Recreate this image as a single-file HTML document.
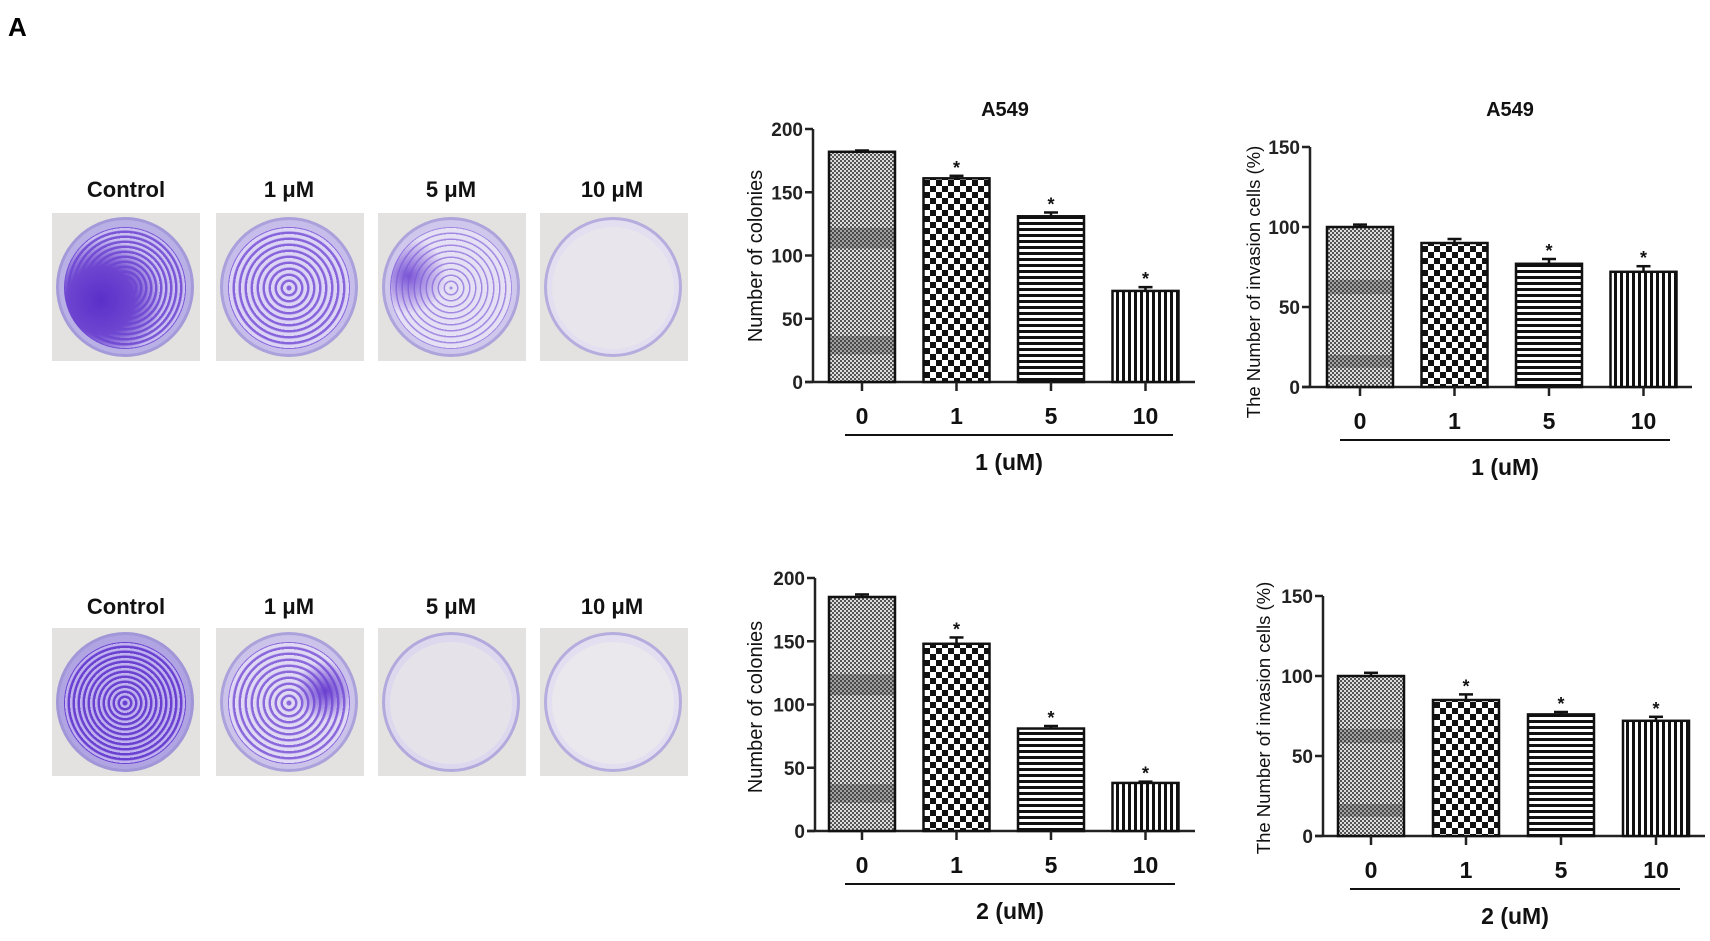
<!DOCTYPE html>
<html><head><meta charset="utf-8"><style>
html,body{margin:0;padding:0;background:#fff;width:1710px;height:941px;overflow:hidden;font-family:"Liberation Sans",Arial,sans-serif}
.lbl{position:absolute;font-weight:bold;font-size:22px;color:#111;transform:translateX(-50%);white-space:nowrap}
.photo{position:absolute;width:148px;height:148px;background:#e4e2e0;overflow:hidden}
.dish{position:absolute;left:4px;top:4px;width:138px;height:140px;border-radius:50%;border:3px solid rgba(150,140,210,.6);box-sizing:border-box}
.inner{position:absolute;left:12px;top:14px;width:122px;height:122px;border-radius:50%}
</style></head><body>
<div style="position:absolute;left:8px;top:12px;font-size:26px;font-weight:bold">A</div>

<div class="lbl" style="left:126px;top:177px">Control</div>
<div class="lbl" style="left:289px;top:177px">1 μM</div>
<div class="lbl" style="left:451px;top:177px">5 μM</div>
<div class="lbl" style="left:612px;top:177px">10 μM</div>
<div class="photo" style="left:52px;top:213px"><div class="dish" style="background:#b9b0e6"></div><div class="inner" style="background:radial-gradient(circle at 30% 60%,#5a2fc9 0,#6d45d0 30%,transparent 55%),repeating-radial-gradient(circle at 50% 50%,#7a55d6 0 2px,#c9bff0 3px 5px)"></div></div>
<div class="photo" style="left:216px;top:213px"><div class="dish" style="background:#c6bdea"></div><div class="inner" style="background:repeating-radial-gradient(circle at 50% 50%,#8764dc 0 2px,#dcd4f4 3px 6px)"></div></div>
<div class="photo" style="left:378px;top:213px"><div class="dish" style="background:#cfc8ec"></div><div class="inner" style="background:radial-gradient(circle at 15% 40%,#7a55d6 0,transparent 30%),repeating-radial-gradient(circle at 50% 50%,#a088e2 0 1px,#e6e0f5 2px 6px)"></div></div>
<div class="photo" style="left:540px;top:213px"><div class="dish" style="background:#e3def0"></div><div class="inner" style="background:#e8e5ec"></div></div>

<div class="lbl" style="left:126px;top:594px">Control</div>
<div class="lbl" style="left:289px;top:594px">1 μM</div>
<div class="lbl" style="left:451px;top:594px">5 μM</div>
<div class="lbl" style="left:612px;top:594px">10 μM</div>
<div class="photo" style="left:52px;top:628px"><div class="dish" style="background:#b0a5e2"></div><div class="inner" style="background:repeating-radial-gradient(circle at 50% 50%,#6a40d0 0 2px,#bfb2ee 3px 5px)"></div></div>
<div class="photo" style="left:216px;top:628px"><div class="dish" style="background:#cbc3ea"></div><div class="inner" style="background:radial-gradient(circle at 80% 40%,#6a40d0 0,transparent 25%),repeating-radial-gradient(circle at 50% 50%,#8a68dc 0 2px,#e0d9f4 3px 6px)"></div></div>
<div class="photo" style="left:378px;top:628px"><div class="dish" style="background:#ddd8ee"></div><div class="inner" style="background:#e6e2ea"></div></div>
<div class="photo" style="left:540px;top:628px"><div class="dish" style="background:#e3dff0"></div><div class="inner" style="background:#eae8ec"></div></div>

<svg id="charts" width="1710" height="941" style="position:absolute;left:0;top:0">
<defs>
<pattern id="p0" width="4" height="4" patternUnits="userSpaceOnUse"><rect width="4" height="4" fill="#ddd"/><rect width="2" height="2" fill="#555"/><rect x="2" y="2" width="2" height="2" fill="#555"/></pattern>
<pattern id="p1" width="12" height="12" patternUnits="userSpaceOnUse"><rect width="12" height="12" fill="#fff"/><rect width="6" height="6" fill="#111"/><rect x="6" y="6" width="6" height="6" fill="#111"/></pattern>
<pattern id="p2" width="6" height="6" patternUnits="userSpaceOnUse"><rect width="6" height="6" fill="#fff"/><rect width="6" height="3" fill="#111"/></pattern>
<pattern id="p3" width="6" height="6" patternUnits="userSpaceOnUse"><rect width="6" height="6" fill="#fff"/><rect width="3" height="6" fill="#111"/></pattern>
</defs>
</svg>

<script>
const categories = ["0", "1", "5", "10"];
const colonies1 = [182, 161, 131, 72];
const colonies1Err = [1, 2, 3, 3];
const colonies1Star = [false, true, true, true];
const invasion1 = [100, 90, 77, 72];
const invasion1Err = [1.5, 2.5, 3, 3.5];
const invasion1Star = [false, false, true, true];
const colonies2 = [185, 148, 81, 38];
const colonies2Err = [2, 5, 2, 1];
const colonies2Star = [false, true, true, true];
const invasion2 = [100, 85, 76, 72];
const invasion2Err = [2, 3.5, 1.5, 2.5];
const invasion2Star = [false, true, true, true];
const coloniesTicks = [0, 50, 100, 150, 200];
const invasionTicks = [0, 50, 100, 150];

const NS = "http://www.w3.org/2000/svg";
const svg = document.getElementById("charts");
function mk(tag, attrs, parent) {
  const e = document.createElementNS(NS, tag);
  for (const k in attrs) e.setAttribute(k, attrs[k]);
  (parent || svg).appendChild(e);
  return e;
}
function drawChart(cfg, vals, errs, stars, ticks) {
  const g = mk("g", {});
  
  
  const yMax = ticks[ticks.length - 1];
  const yScale = v => cfg.y0 - (v / yMax) * (cfg.y0 - cfg.yTop);
  const xCenter = i => cfg.c0 + cfg.step * i;
  const ya = mk("line", {x1: cfg.ax, y1: cfg.yTop, x2: cfg.ax, y2: cfg.y0, stroke: "#222", "stroke-width": 2.5}, g);
  
  
  const xa = mk("line", {x1: cfg.ax - 8, y1: cfg.y0, x2: cfg.xEnd, y2: cfg.y0, stroke: "#222", "stroke-width": 2.5}, g);
  
  
  ticks.forEach(t => {
    const y = yScale(t);
    mk("line", {x1: cfg.ax - 8, y1: y, x2: cfg.ax, y2: y, stroke: "#222", "stroke-width": 2.5}, g);
    const tx = mk("text", {x: cfg.ax - 10, y: y + 7, "text-anchor": "end", "font-size": 19, "font-weight": "bold", fill: "#222"}, g);
    tx.textContent = t;
    
    
  });
  const bw = cfg.bw;
  vals.forEach((v, i) => {
    const cx = xCenter(i);
    const top = yScale(v);
    const r = mk("rect", {x: cx - bw / 2, y: top, width: bw, height: cfg.y0 - top, fill: "url(#p" + i + ")", stroke: "#111", "stroke-width": 2.5}, g);
    
    
    if (i === 0) {
      [[0.58, 0.67], [0.12, 0.2]].forEach(b => {
        mk("rect", {x: cx - bw / 2 + 1, y: yScale(v * b[1]), width: bw - 2, height: yScale(v * b[0]) - yScale(v * b[1]), fill: "#333", opacity: 0.35}, g);
      });
    }
    const et = yScale(v + errs[i]);
    mk("line", {x1: cx, y1: top, x2: cx, y2: et, stroke: "#111", "stroke-width": 2.5}, g);
    const cap = mk("line", {x1: cx - 7, y1: et, x2: cx + 7, y2: et, stroke: "#111", "stroke-width": 2.5}, g);
    
    
    if (stars[i]) {
      const s = mk("text", {x: cx, y: et - 2, "text-anchor": "middle", "font-size": 18, "font-weight": "bold", fill: "#111"}, g);
      s.textContent = "*";
      
      
    }
    mk("line", {x1: cx, y1: cfg.y0, x2: cx, y2: cfg.y0 + 9, stroke: "#222", "stroke-width": 2.5}, g);
    const xl = mk("text", {x: cx, y: cfg.y0 + 42, "text-anchor": "middle", "font-size": 23, "font-weight": "bold", fill: "#111"}, g);
    xl.textContent = categories[i];
    
    
  });
  const ul = mk("line", {x1: cfg.ulx1, y1: cfg.y0 + 53, x2: cfg.ulx2, y2: cfg.y0 + 53, stroke: "#111", "stroke-width": 2}, g);
  
  
  const xt = mk("text", {x: (cfg.ulx1 + cfg.ulx2) / 2, y: cfg.y0 + 88, "text-anchor": "middle", "font-size": 23, "font-weight": "bold", fill: "#111"}, g);
  xt.textContent = cfg.xTitle;
  
  
  if (cfg.title) {
    const tt = mk("text", {x: cfg.titleX, y: cfg.titleY, "text-anchor": "middle", "font-size": 20, "font-weight": "bold", fill: "#111"}, g);
    tt.textContent = cfg.title;
    
    
  }
  const yt = mk("text", {x: 0, y: 0, "text-anchor": "middle", "font-size": cfg.ytSize, fill: "#111", transform: "translate(" + cfg.ytx + "," + cfg.yty + ") rotate(-90)"}, g);
  yt.textContent = cfg.yTitle;
  
  
}
drawChart({name: "colonies-chart-1", ax: 813, c0: 862, step: 94.5, xEnd: 1195, y0: 382, yTop: 129, bw: 66, ulx1: 845, ulx2: 1173, xTitle: "1 (uM)", title: "A549", titleX: 1005, titleY: 116, yTitle: "Number of colonies", ytSize: 20, ytx: 762, yty: 256}, colonies1, colonies1Err, colonies1Star, coloniesTicks);
drawChart({name: "invasion-chart-1", ax: 1310, c0: 1360, step: 94.5, xEnd: 1692, y0: 387, yTop: 147, bw: 66, ulx1: 1340, ulx2: 1670, xTitle: "1 (uM)", title: "A549", titleX: 1510, titleY: 116, yTitle: "The Number of invasion cells (%)", ytSize: 18.5, ytx: 1260, yty: 282}, invasion1, invasion1Err, invasion1Star, invasionTicks);
drawChart({name: "colonies-chart-2", ax: 815, c0: 862, step: 94.5, xEnd: 1195, y0: 831, yTop: 578, bw: 66, ulx1: 845, ulx2: 1175, xTitle: "2 (uM)", yTitle: "Number of colonies", ytSize: 20, ytx: 762, yty: 707}, colonies2, colonies2Err, colonies2Star, coloniesTicks);
drawChart({name: "invasion-chart-2", ax: 1323, c0: 1371, step: 95, xEnd: 1705, y0: 836, yTop: 596, bw: 66, ulx1: 1350, ulx2: 1680, xTitle: "2 (uM)", yTitle: "The Number of invasion cells (%)", ytSize: 18.5, ytx: 1270, yty: 718}, invasion2, invasion2Err, invasion2Star, invasionTicks);
</script>
</body></html>
